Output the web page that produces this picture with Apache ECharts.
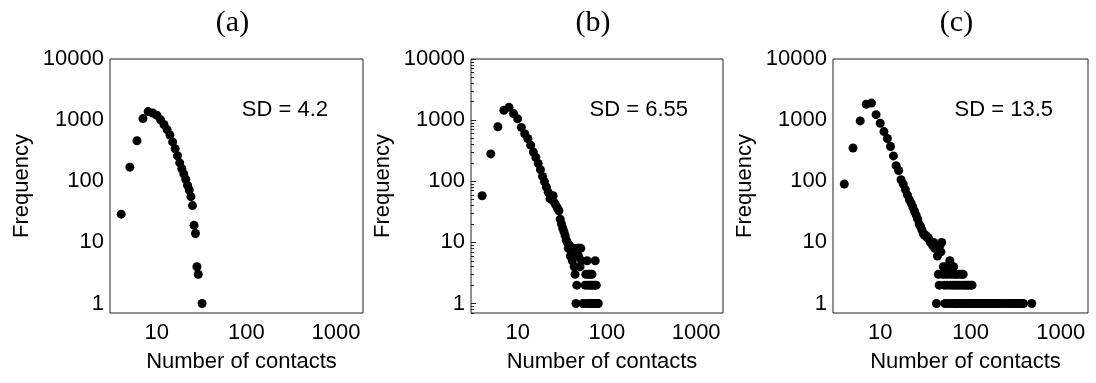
<!DOCTYPE html>
<html>
<head>
<meta charset="utf-8">
<script src="https://cdn.jsdelivr.net/npm/echarts@6/dist/echarts.min.js"></script>
<style>html,body{margin:0;padding:0;background:#fff}#c{width:1096px;height:383px}</style>
</head>
<body>
<div id="c"></div>
<script>
// ---- data (degree = number of contacts, frequency) ----
const panelTitles = ['(a)', '(b)', '(c)'];
const sdLabels = ['SD = 4.2', 'SD = 6.55', 'SD = 13.5'];
const xTickValues = [10, 100, 1000];
const yTickValues = [1, 10, 100, 1000, 10000];
const xAxisName = 'Number of contacts';
const yAxisName = 'Frequency';

const degA = [4,5,6,7,8,9,10,11,12,13,14,15,16,17,18,19,20,21,22,23,24,25,26,27,28,29,32];
const freqA = [29,170,460,1060,1380,1310,1200,1010,850,700,570,440,340,262,200,160,132,108,86,72,56,40,19,14,4,3,1];

const degB = [4,5,6,7,8,9,10,11,12,13,14,15,16,17,18,19,20,21,22,23,24,25,26,27,28,29,30,31,32,33,34,35,36,37,38,39,40,41,42,43,44,45,46,47,48,49,50,51,52,54,57,58,59,60,61,62,63,64,65,66,67,68,69,70,72,73,74,75,76,78,80];
const freqB = [58,280,780,1450,1620,1280,1050,760,600,500,390,300,245,195,155,120,98,80,66,52,50,58,44,40,36,33,24,20,17,15,13,11,10,8,9,6,7,5,8,4,3,1,2,8,6,8,4,8,5,1,2,3,1,5,2,3,1,2,3,1,2,3,1,2,1,2,5,1,2,1,1];

const degC = [4,5,6,7,8,9,10,11,12,13,14,15,16,17,18,19,20,21,22,23,24,25,26,27,28,29,30,31,32,33,34,35,36,37,38,39,40,41,42,43,44,45,46,47,48,49,50,51,52,53,54,55,56,57,58,59,60,61,62,63,64,65,66,67,68,69,70,72,73,75,76,78,80,81,83,84,86,88,90,92,95,97,100,102,104,106,110,115,120,126,132,138,145,152,160,168,176,185,195,205,213,232,245,258,272,288,305,322,340,358,372,386,476];
const freqC = [90,350,970,1820,1900,1230,890,650,500,370,260,180,150,106,90,73,60,50,44,38,32,28,24,20,18,16,14,13,13,12,12,11,10,10,9,10,8,9,1,6,3,2,9,7,10,3,4,2,1,3,4,2,1,3,4,5,2,1,3,4,2,4,1,3,2,1,3,2,1,3,2,1,3,2,3,1,2,1,2,1,2,1,2,1,2,1,1,1,1,1,1,1,1,1,1,1,1,1,1,1,1,1,1,1,1,1,1,1,1,1,1,1,1];

const panels = [
  {deg: degA, freq: freqA},
  {deg: degB, freq: freqB},
  {deg: degC, freq: freqC}
];

// ---- layout ----
const gridBoxes = [
  {left: 110, width: 253},
  {left: 471, width: 252},
  {left: 833, width: 255}
];
const gridTop = 59, gridHeight = 254;
const sans = '"Liberation Sans", Arial, Helvetica, sans-serif';
const serif = '"Liberation Serif", "Times New Roman", serif';
const fs = 22;

function powLabel(v) {
  const l = Math.log10(v);
  if (Math.abs(l - Math.round(l)) < 1e-6) return String(Math.round(Math.pow(10, Math.round(l))));
  return '';
}

const minorY = [];
[0.1, 1, 10, 100, 1000].forEach(b => { for (let k = 2; k <= 9; k++) { const v = +(k * b).toPrecision(3); if (v >= 0.7 && v < 10000) minorY.push(v); } });

const grids = [], xAxes = [], yAxes = [], series = [], graphics = [];
panels.forEach((p, i) => {
  const g = gridBoxes[i];
  grids.push({left: g.left, top: gridTop, width: g.width, height: gridHeight, show: true,
    borderColor: '#222', borderWidth: 1, backgroundColor: 'transparent'});
  xAxes.push({type: 'log', logBase: 10, gridIndex: i, min: 3, max: 2000,
    name: xAxisName, nameLocation: 'middle', nameGap: 38,
    nameTextStyle: {fontFamily: sans, fontSize: fs, color: '#000', padding: [0, 0, 0, 10]},
    axisLine: {show: false}, axisTick: {show: false}, splitLine: {show: false}, minorTick: {show: false},
    axisLabel: {customValues: xTickValues, formatter: powLabel, fontFamily: sans, fontSize: fs, color: '#000', margin: 9}});
  yAxes.push({type: 'log', logBase: 10, gridIndex: i, min: 0.7, max: 10000,
    name: yAxisName, nameLocation: 'middle', nameGap: 77,
    nameTextStyle: {fontFamily: sans, fontSize: fs, color: '#000'},
    axisLine: {show: false}, splitLine: {show: false},
    axisTick: i === 1 ? {show: true, inside: true, length: 5, customValues: yTickValues, lineStyle: {color: '#222'}} : {show: false},
    axisLabel: {customValues: yTickValues, formatter: powLabel, fontFamily: sans, fontSize: fs, color: '#000', margin: 6}});
  series.push({type: 'scatter', xAxisIndex: i, yAxisIndex: i + (i > 1 ? 1 : 0), symbol: 'circle', symbolSize: 9,
    itemStyle: {color: '#000', opacity: 1}, data: p.deg.map((d, j) => [d, p.freq[j]]), z: 3});
  if (i === 1) {
    yAxes.push({type: 'log', logBase: 10, gridIndex: i, min: 0.7, max: 10000, position: 'left',
      axisLine: {show: false}, splitLine: {show: false}, axisLabel: {show: false},
      axisTick: {show: true, inside: true, length: 3, customValues: minorY, lineStyle: {color: '#222'}}});
  }
  const cx = g.left + g.width / 2;
  graphics.push({type: 'text', x: cx - 4, y: 23,
    style: {text: panelTitles[i], font: '30px ' + serif, fill: '#000', textAlign: 'center', textVerticalAlign: 'middle', align: 'center', verticalAlign: 'middle'}});
  graphics.push({type: 'text', x: g.left + g.width - 35, y: 110,
    style: {text: sdLabels[i], font: fs + 'px ' + sans, fill: '#000', textAlign: 'right', textVerticalAlign: 'middle', align: 'right', verticalAlign: 'middle'}});
});

const chart = echarts.init(document.getElementById('c'), null, {renderer: 'canvas'});
chart.setOption({
  animation: false,
  backgroundColor: '#fff',
  grid: grids,
  xAxis: xAxes,
  yAxis: yAxes,
  series: series,
  graphic: graphics
});
</script>
</body>
</html>
